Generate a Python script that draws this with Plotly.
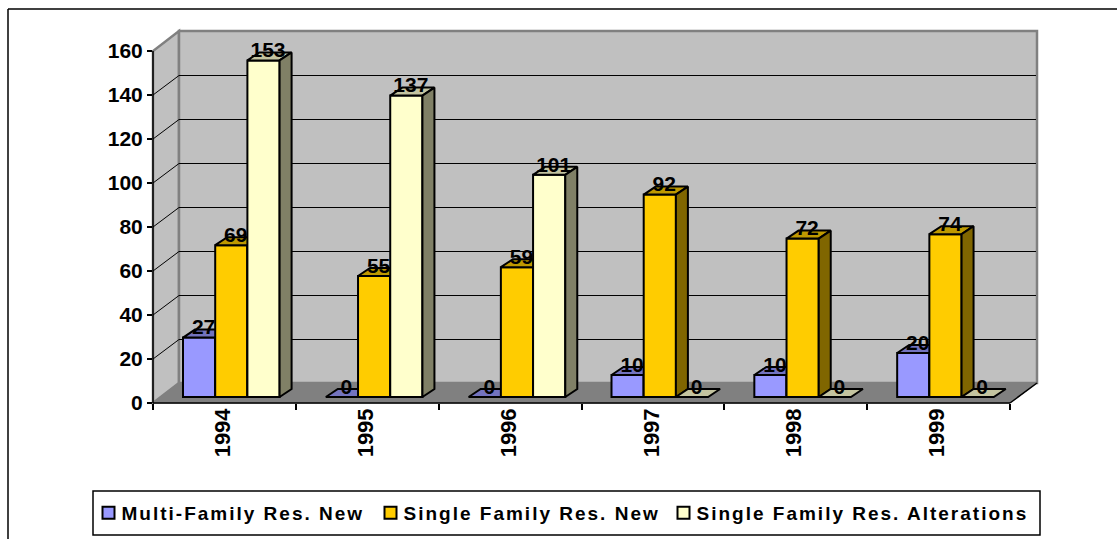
import plotly.graph_objects as go

# ---- data -------------------------------------------------------------
years = ["1994", "1995", "1996", "1997", "1998", "1999"]
multi_family_new = [27, 0, 0, 10, 10, 20]
single_family_new = [69, 55, 59, 92, 72, 74]
single_family_alt = [153, 137, 101, 0, 0, 0]
series_names = ["Multi-Family Res. New", "Single Family Res. New", "Single Family Res. Alterations"]
y_ticks = [0, 20, 40, 60, 80, 100, 120, 140, 160]

front_colors = ["#9999FF", "#FFCC00", "#FFFFCC"]
top_colors = ["#7373BF", "#BF9900", "#C4C4A0"]
side_colors = ["#4D4D80", "#806600", "#808066"]
legend_widths = [237, 248, 345]

FONT = "Liberation Sans"

# ---- geometry of the pseudo-3D projection (pixels of the 1117x539 page)
W, H = 1117, 539
L, R, T, B = 153, 1037, 31, 403      # plot box, including the depth of the floor
FRONT_R = 1010
WALL_DX, WALL_DY = 27, 20            # floor depth
BAR_DX, BAR_DY = 12, 8               # bar depth
PX_PER_CAT = (FRONT_R - L) / len(years)
PX_PER_VAL = 2.2
BASE_LIFT = 6                        # bars stand a little behind the front edge
BAR_W = 32.2 / PX_PER_CAT
GROUP_START = 30 / PX_PER_CAT

x_range = [0, (R - L) / PX_PER_CAT]
y_range = [0, (B - T) / PX_PER_VAL]
base = BASE_LIFT / PX_PER_VAL
ddx, ddy = BAR_DX / PX_PER_CAT, BAR_DY / PX_PER_VAL


def px(x):
    return (x - L) / (R - L)


def py(y):
    return (B - y) / (B - T)


def poly(pts):
    return "M " + " L ".join(f"{px(a):.5f},{py(b):.5f}" for a, b in pts) + " Z"


fig = go.Figure()
series = [multi_family_new, single_family_new, single_family_alt]
for i, values in enumerate(series):
    n = "" if i == 0 else str(i + 1)
    xa, ya = "x" + n, "y" + n
    xs = [c + GROUP_START + BAR_W * (i + 0.5) for c in range(len(years))]
    fig.add_trace(go.Bar(
        x=xs, y=values, base=[base] * len(values), width=BAR_W, name=series_names[i],
        legendwidth=legend_widths[i],
        marker=dict(color=front_colors[i], line=dict(color="black", width=2)),
        xaxis=xa, yaxis=ya, hoverinfo="skip"))
    tx, ty, sx, sy = [], [], [], []
    for xc, v in zip(xs, values):
        x0, x1, yt = xc - BAR_W / 2, xc + BAR_W / 2, base + v
        tx += [x0, x1, x1 + ddx, x0 + ddx, x0, None]
        ty += [yt, yt, yt + ddy, yt + ddy, yt, None]
        if v > 0:
            sx += [x1, x1 + ddx, x1 + ddx, x1, x1, None]
            sy += [base, base + ddy, yt + ddy, yt, base, None]
    for fx, fy, col in ((tx, ty, top_colors[i]), (sx, sy, side_colors[i])):
        fig.add_trace(go.Scatter(
            x=fx, y=fy, mode="lines", fill="toself", fillcolor=col,
            line=dict(color="black", width=2), showlegend=False,
            xaxis=xa, yaxis=ya, hoverinfo="skip"))

# value labels, above everything
lx, ly, lt = [], [], []
for i, values in enumerate(series):
    for c, v in enumerate(values):
        lx.append(c + GROUP_START + BAR_W * (i + 0.5) + 4.5 / PX_PER_CAT)
        ly.append(base + v + 8.5 / PX_PER_VAL)
        lt.append(str(v))
fig.add_trace(go.Scatter(
    x=lx, y=ly, text=lt, mode="text", textposition="middle center",
    textfont=dict(family=FONT, size=21, color="black", weight="bold"),
    showlegend=False, xaxis="x4", yaxis="y4", hoverinfo="skip"))

# walls, floor, gridlines, frame
shapes = []
GRAY = "#808080"
shapes.append(dict(type="path", xref="paper", yref="paper", layer="below",
                   path=poly([(L, B), (L + WALL_DX - 1, B - WALL_DY), (L + WALL_DX - 1, T), (L, T + WALL_DY)]),
                   fillcolor="#C0C0C0", line=dict(color=GRAY, width=2.5)))
shapes.append(dict(type="path", xref="paper", yref="paper", layer="below",
                   path=poly([(L + WALL_DX - 1, B - WALL_DY), (R, B - WALL_DY), (R, T), (L + WALL_DX - 1, T)]),
                   fillcolor="#C0C0C0", line=dict(color=GRAY, width=2.5)))
shapes.append(dict(type="path", xref="paper", yref="paper", layer="below",
                   path=poly([(L, B), (FRONT_R, B), (R, B - WALL_DY), (L + WALL_DX - 1, B - WALL_DY)]),
                   fillcolor=GRAY, line=dict(color=GRAY, width=1)))
for v in y_ticks[1:-1]:
    yf = B - v * PX_PER_VAL
    yb = round(yf - WALL_DY) + 0.5
    for a, b, c, d in ((L, yf, L + WALL_DX - 1, yb), (L + WALL_DX - 1, yb, R - 1, yb)):
        shapes.append(dict(type="line", xref="paper", yref="paper", layer="below",
                           x0=px(a), y0=py(b), x1=px(c), y1=py(d), line=dict(color="black", width=1)))
for a, b, c, d in ((L, B, FRONT_R, B), (L, B, L, B - 160 * PX_PER_VAL), (FRONT_R, B, R, B - WALL_DY)):
    shapes.append(dict(type="line", xref="paper", yref="paper", layer="below",
                       x0=px(a), y0=py(b), x1=px(c), y1=py(d), line=dict(color="black", width=1.5)))
# chart frame and legend box
shapes.append(dict(type="line", xref="paper", yref="paper", layer="below",
                   x0=px(8), y0=py(9), x1=px(W), y1=py(9), line=dict(color="black", width=1.5)))
shapes.append(dict(type="line", xref="paper", yref="paper", layer="below",
                   x0=px(8), y0=py(9), x1=px(8), y1=py(H), line=dict(color="black", width=1.5)))
shapes.append(dict(type="rect", xref="paper", yref="paper", layer="below",
                   x0=px(93), y0=py(491), x1=px(1040), y1=py(535), line=dict(color="black", width=1.5),
                   fillcolor="white"))

hidden = dict(range=x_range, visible=False, overlaying="x", fixedrange=True)
hidden_y = dict(range=y_range, visible=False, overlaying="y", fixedrange=True)
fig.update_layout(
    width=W, height=H, margin=dict(l=L, r=W - R, t=T, b=H - B, pad=0, autoexpand=False),
    paper_bgcolor="white", plot_bgcolor="rgba(0,0,0,0)", barmode="overlay", shapes=shapes,
    font=dict(family=FONT, color="black"),
    xaxis=dict(range=x_range, tickmode="array", tickvals=[c + 0.49 for c in range(len(years))], ticktext=years,
               tickangle=-90, ticks="", showline=False, showgrid=False, zeroline=False, fixedrange=True,
               tickfont=dict(family=FONT, size=22, weight="bold", color="black"),
               minor=dict(tickmode="array", tickvals=list(range(len(years) + 1)), ticks="outside",
                          ticklen=6, tickwidth=1.5, tickcolor="black")),
    yaxis=dict(range=y_range, tickmode="array", tickvals=y_ticks, ticktext=[str(t) for t in y_ticks],
               ticks="outside", ticklen=5, tickwidth=1.5, tickcolor="black", showline=False, showgrid=False,
               zeroline=False, fixedrange=True,
               tickfont=dict(family=FONT, size=21, weight="bold", color="black")),
    xaxis2=dict(hidden, anchor="y2"), yaxis2=dict(hidden_y, anchor="x2"),
    xaxis3=dict(hidden, anchor="y3"), yaxis3=dict(hidden_y, anchor="x3"),
    xaxis4=dict(hidden, anchor="y4"), yaxis4=dict(hidden_y, anchor="x4"),
    legend=dict(orientation="h", x=px(88.5), y=py(494), xanchor="left", yanchor="top",
                bgcolor="rgba(0,0,0,0)", borderwidth=0, traceorder="normal",
                font=dict(family=FONT, size=19, weight="bold", color="black"),
                itemsizing="constant", entrywidthmode="pixels"),
)
post = """
document.body.style.margin='0';document.body.style.overflow='hidden';
document.querySelectorAll('.legendtext').forEach(function(t){
  t.style.letterSpacing='2px';
  t.setAttribute('x', parseFloat(t.getAttribute('x')) - 7);
});
"""
fig.write_html("out.html", post_script=post, config={"displayModeBar": False})
